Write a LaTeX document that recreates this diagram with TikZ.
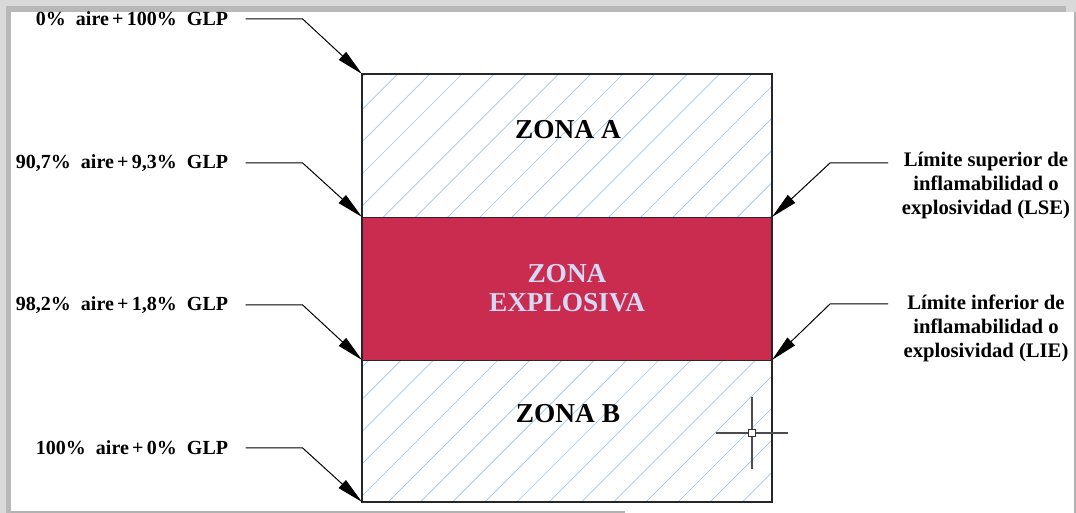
\documentclass[tikz,border=0pt]{standalone}
\usepackage{fontspec}
\setmainfont{Liberation Serif}
\usetikzlibrary{arrows.meta}

\definecolor{hatchblue}{RGB}{160,196,234}
\definecolor{explored}{RGB}{201,44,79}
\definecolor{lavender}{RGB}{212,218,246}

\tikzset{
  leader/.style={draw=black, line width=0.75pt, -{Triangle[length=20pt,width=8pt]}},
  hatch/.style={draw=hatchblue, line width=0.5pt},
  leftlabel/.style={anchor=east, inner sep=2pt, font=\bfseries\fontsize{15}{18}\selectfont},
  rightlabel/.style={align=center, inner sep=2pt, font=\bfseries\fontsize{15.5}{18}\selectfont},
  zonelabel/.style={align=center, font=\bfseries\fontsize{20.5}{22}\selectfont}
}

\begin{document}
\begin{tikzpicture}[x=0.75pt, y=-0.75pt]

  \useasboundingbox (0,0) rectangle (1076,513);

  % Window frame around the drawing
  \fill[black!15] (0,0) rectangle (1076,12);
  \fill[black!15] (0,0) rectangle (11,513);
  \fill[black!28] (6,6) rectangle (1066,12);
  \fill[black!28] (6,6) rectangle (11,513);
  \draw[black!30, line width=1pt] (1075,12) -- (1075,513);
  \draw[black!30, line width=1.5pt] (11,512) -- (625,512);

  % Define the edges of the column
  \def\xl{362}
  \def\xr{772}
  \def\ytop{74}
  \def\ylse{217}
  \def\ylie{360}
  \def\ybot{502}

  % Corners where the arrows end
  \coordinate (c0) at (\xl,\ytop);
  \coordinate (c1) at (\xl,\ylse);
  \coordinate (c2) at (\xl,\ylie);
  \coordinate (c3) at (\xl,\ybot);
  \coordinate (d1) at (\xr,\ylse);
  \coordinate (d2) at (\xr,\ylie);

  % Hatch the whole column
  \begin{scope}
    \clip (c0) rectangle (\xr,\ybot);
    \foreach \k in {-8,...,19} {
      \pgfmathsetmacro\c{1019-32.2*\k}
      \draw[hatch] ({\c-520},520) -- ({\c-60},60);
    }
  \end{scope}

  % Explosive zone between the two limits
  \fill[explored] (c1) rectangle (d2);

  % Outline of the zones
  \draw[black!85, line width=0.8pt] (c0) rectangle (\xr,\ybot);
  \draw[black!85, line width=0.6pt] (c1) -- (d1);
  \draw[black!85, line width=0.6pt] (c2) -- (d2);

  % Zone names
  \node[zonelabel] (zA) at (568,130) {ZONA A};
  \node[zonelabel, text=lavender] (zX) at (567,288) {ZONA\\EXPLOSIVA};
  \node[zonelabel] (zB) at (568,414) {ZONA B};

  % Mixtures on the left
  \node[leftlabel] (l0) at (231,19) {0\%\ \ aire\,+\,100\%\ \ GLP};
  \node[leftlabel] (l1) at (231,163) {90,7\%\ \ aire\,+\,9,3\%\ \ GLP};
  \node[leftlabel] (l2) at (231,305) {98,2\%\ \ aire\,+\,1,8\%\ \ GLP};
  \node[leftlabel] (l3) at (231,448) {100\%\ \ aire\,+\,0\%\ \ GLP};

  \draw[leader] ([xshift=11pt]l0.east) -- ++(57,0) -- (c0);
  \draw[leader] ([xshift=11pt]l1.east) -- ++(57,0) -- (c1);
  \draw[leader] ([xshift=11pt]l2.east) -- ++(57,0) -- (c2);
  \draw[leader] ([xshift=11pt]l3.east) -- ++(57,0) -- (c3);

  % Limits on the right
  \node[rightlabel] (r1) at (986,186) {Límite superior de\\inflamabilidad o\\explosividad (LSE)};
  \node[rightlabel] (r2) at (986,328) {Límite inferior de\\inflamabilidad o\\explosividad (LIE)};

  \coordinate (e1) at (888,163);
  \coordinate (e2) at (888,304);
  \draw[leader] (e1) -- ++(-58,0) -- (d1);
  \draw[leader] (e2) -- ++(-58,0) -- (d2);

  % Cursor cross
  \draw[black!70, line width=1pt] (716,433) -- (788,433);
  \draw[black!70, line width=1pt] (752,397) -- (752,469);
  \draw[black!80, fill=white, line width=0.8pt] (748.5,429.5) rectangle (755.5,436.5);

\end{tikzpicture}
\end{document}
